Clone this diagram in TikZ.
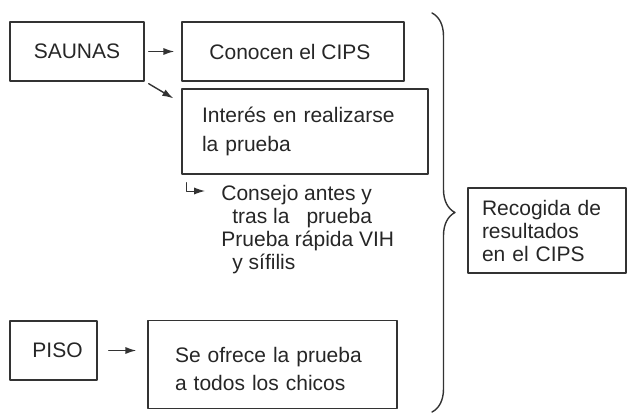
\documentclass[tikz,border=0pt]{standalone}
\usepackage{fontspec}
\setmainfont{Liberation Sans}
\usetikzlibrary{arrows.meta,decorations.pathreplacing,positioning}
\begin{document}
\begin{tikzpicture}[x=0.5pt, y=-0.5pt, font=\fontsize{10.5}{11.5}\selectfont, line cap=round, line join=round, every node/.style={text=black!85}, box/.style={draw=black!80, line width=0.7pt, inner sep=0pt}, >={Latex[length=5.5pt,width=3.6pt]}]
\useasboundingbox (0,0) rectangle (628,413);
\coordinate (saunas) at (77,51.5); \coordinate (conocen) at (293,51.5); \coordinate (interes) at (305,131.5); \coordinate (piso) at (53.5,350.5); \coordinate (ofrece) at (272.5,364.5); \coordinate (recogida) at (547,230.5); \coordinate (bt) at (432,13); \coordinate (bb) at (432,412);
\node[box, minimum width=67pt, minimum height=29.5pt] (S) at (saunas) {SAUNAS}; \node[box, minimum width=111pt, minimum height=29.5pt] (C) at (conocen) {\hspace*{-3pt}Conocen el CIPS};
\node[box, minimum width=123pt, minimum height=42.5pt, text width=103pt, align=left, inner xsep=10pt, font=\fontsize{10.5}{14.5}\selectfont] (I) at (interes) {Interés en realizarse\\la prueba};
\node[inner xsep=8pt, inner ysep=0pt, anchor=north west, align=left] (T) at (205,185) {Consejo antes y\\\hspace*{5.5pt}tras la\hspace{8.5pt}prueba\\Prueba rápida VIH\\\hspace*{5.5pt}y sífilis};
\node[box, minimum width=43.5pt, minimum height=29.5pt] (P) at (piso) {\hspace*{4pt}PISO};
\node[box, minimum width=124.5pt, minimum height=44pt, text width=97.5pt, align=left, inner xsep=13.5pt, font=\fontsize{10.5}{14}\selectfont] (O) at (ofrece) {\\[-2pt]Se ofrece la prueba\\a todos los chicos\\[-12pt]};
\node[box, minimum width=79pt, minimum height=42.5pt, text width=65pt, align=left, inner xsep=7pt] (R) at (recogida) {Recogida de\\resultados\\en el CIPS};
\draw[->, line width=0.7pt, black!80] ([xshift=2pt]S.east) -- ([xshift=-3.5pt]C.west |- S.east);
\draw[->, line width=0.7pt, black!80] ([shift={(2pt,-1pt)}]S.south east) -- ([shift={(-4pt,-5pt)}]I.north west);
\draw[->, line width=0.5pt, black!80] ([xshift=2.5pt,yshift=-4pt]I.south west) |- ([yshift=-3pt]T.north west);
\draw[->, line width=0.7pt, black!80] ([xshift=5.5pt]P.east) -- ([xshift=-5.5pt]O.west |- P.east);
\draw[line width=0.7pt, black!80, decorate, decoration={brace, amplitude=11.5pt}] (bt) -- (bb);
\end{tikzpicture}
\end{document}
